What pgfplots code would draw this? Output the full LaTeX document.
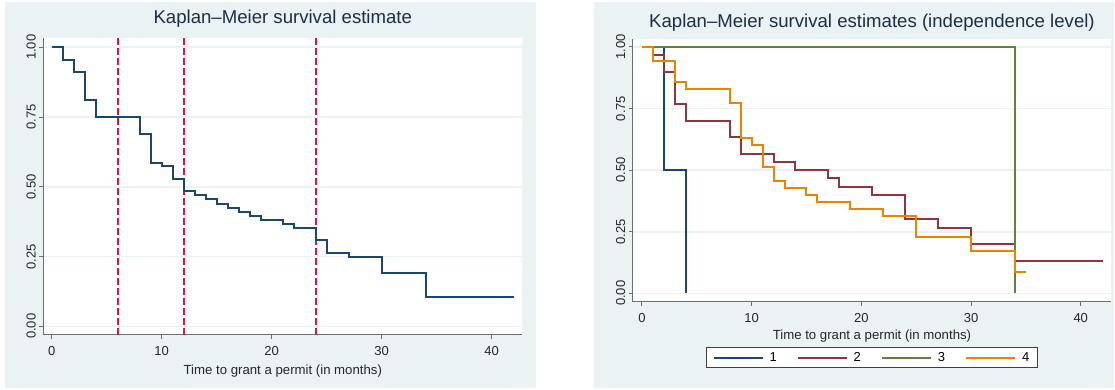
\documentclass[border=0pt]{standalone}
\usepackage{fontspec}
\setmainfont{Liberation Sans}
\usepackage{pgfplots}
\pgfplotsset{compat=1.18}
\definecolor{panelbg}{RGB}{234,242,243}
\definecolor{gridc}{RGB}{234,242,243}
\definecolor{snavy}{RGB}{26,71,111}
\definecolor{smaroon}{RGB}{144,53,59}
\definecolor{sgreen}{RGB}{95,130,60}
\definecolor{sorange}{RGB}{235,130,0}
\definecolor{refline}{RGB}{222,20,60}
\definecolor{titlec}{RGB}{30,45,75}
\definecolor{axc}{RGB}{110,110,110}
\begin{document}
\begin{tikzpicture}
\path[use as bounding box] (0,0) rectangle (1115pt,390pt);
\fill[panelbg] (5pt,2pt) rectangle (536pt,388pt);
\fill[panelbg] (594pt,2pt) rectangle (1114pt,388pt);
\fill[white] (43.3pt,55pt) rectangle (522.3pt,351.5pt);
\fill[white] (632.9pt,88.3pt) rectangle (1111pt,350.7pt);
\pgfplotsset{km/.style={
  scale only axis, anchor=south west,
  axis lines*=left,
  axis line style={color=axc, line width=1pt},
  tick align=outside, major tick length=4pt,
  tick style={color=axc, line width=1pt},
  xtick={0,10,20,30,40},
  ytick={0,0.25,0.5,0.75,1},
  ymajorgrids, major grid style={color=gridc, line width=1.6pt},
  /pgf/number format/assume math mode=true,
  tick label style={font=\fontsize{13}{13}\selectfont, color=black!85},
  xticklabel style={yshift=-4pt},
  yticklabel style={rotate=90, anchor=south, /pgf/number format/.cd, fixed, fixed zerofill, precision=2},
  title style={font=\fontsize{18.6}{18.6}\selectfont, color=titlec, anchor=base, at={(axis description cs:0.5,1)}},
  xlabel style={font=\fontsize{13.2}{13.2}\selectfont, color=black!85, anchor=base, at={(axis description cs:0.5,0)}},
}}
\begin{axis}[km,
  at={(43.3pt,55pt)}, width=479pt, height=296.5pt,
  xmin=-0.76, xmax=42.78, ymin=-0.031, ymax=1.0315,
  title={Kaplan–Meier survival estimate}, title style={yshift=9.2pt},
  xlabel={Time to grant a permit (in months)}, xlabel style={yshift=-39.5pt},
]
\addplot[refline, line width=2pt, dash pattern=on 7pt off 3pt] coordinates {(6,-0.031) (6,1.0315)};
\addplot[refline, line width=2pt, dash pattern=on 7pt off 3pt] coordinates {(12,-0.031) (12,1.0315)};
\addplot[refline, line width=2pt, dash pattern=on 7pt off 3pt] coordinates {(24,-0.031) (24,1.0315)};
\addplot[color=snavy, line width=2pt, const plot] coordinates {(0,1) (1,0.955) (2,0.913) (3,0.810) (4,0.750) (8,0.691) (9,0.587) (10,0.574) (11,0.529) (12,0.484) (13,0.470) (14,0.455) (15,0.440) (16,0.425) (17,0.410) (18,0.396) (19,0.381) (21,0.366) (22,0.351) (24,0.308) (25,0.263) (27,0.248) (30,0.190) (34,0.106) (42,0.106)};
\end{axis}
\begin{axis}[km,
  at={(632.9pt,88.3pt)}, width=478.1pt, height=262.4pt,
  xmin=-0.82, xmax=42.76, ymin=-0.034, ymax=1.031,
  title={Kaplan–Meier survival estimates (independence level)}, title style={yshift=6pt},
  xlabel={Time to grant a permit (in months)}, xlabel style={yshift=-37.6pt},
  legend style={at={(0.5,-0.172)}, anchor=north, legend columns=4, draw=black!75, fill=white, line width=1pt,
    font=\fontsize{13}{13}\selectfont, inner xsep=6.5pt, inner ysep=3pt,
    /tikz/every odd column/.append style={column sep=4pt},
    /tikz/every even column/.append style={column sep=18pt}},
  legend image code/.code={\draw[#1, line width=2pt] (0pt,0pt) -- (49pt,0pt);},
]
\addplot[color=snavy, line width=2pt, const plot] coordinates {(0,1) (2,0.5) (4,0)};
\addplot[color=smaroon, line width=2pt, const plot] coordinates {(0,1) (1,0.967) (2,0.9) (3,0.767) (4,0.7) (8,0.633) (9,0.567) (12,0.533) (14,0.5) (17,0.467) (18,0.433) (21,0.4) (24,0.3) (27,0.267) (30,0.2) (34,0.133) (42,0.133)};
\addplot[color=sgreen, line width=2pt, const plot] coordinates {(0,1) (34,0)};
\addplot[color=sorange, line width=2pt, const plot] coordinates {(0,1) (1,0.943) (3,0.857) (4,0.829) (8,0.771) (9,0.629) (10,0.6) (11,0.514) (12,0.457) (13,0.429) (15,0.4) (16,0.371) (19,0.343) (22,0.314) (25,0.229) (30,0.171) (34,0.086) (35,0.086)};
\legend{1,2,3,4}
\end{axis}
\end{tikzpicture}
\end{document}
